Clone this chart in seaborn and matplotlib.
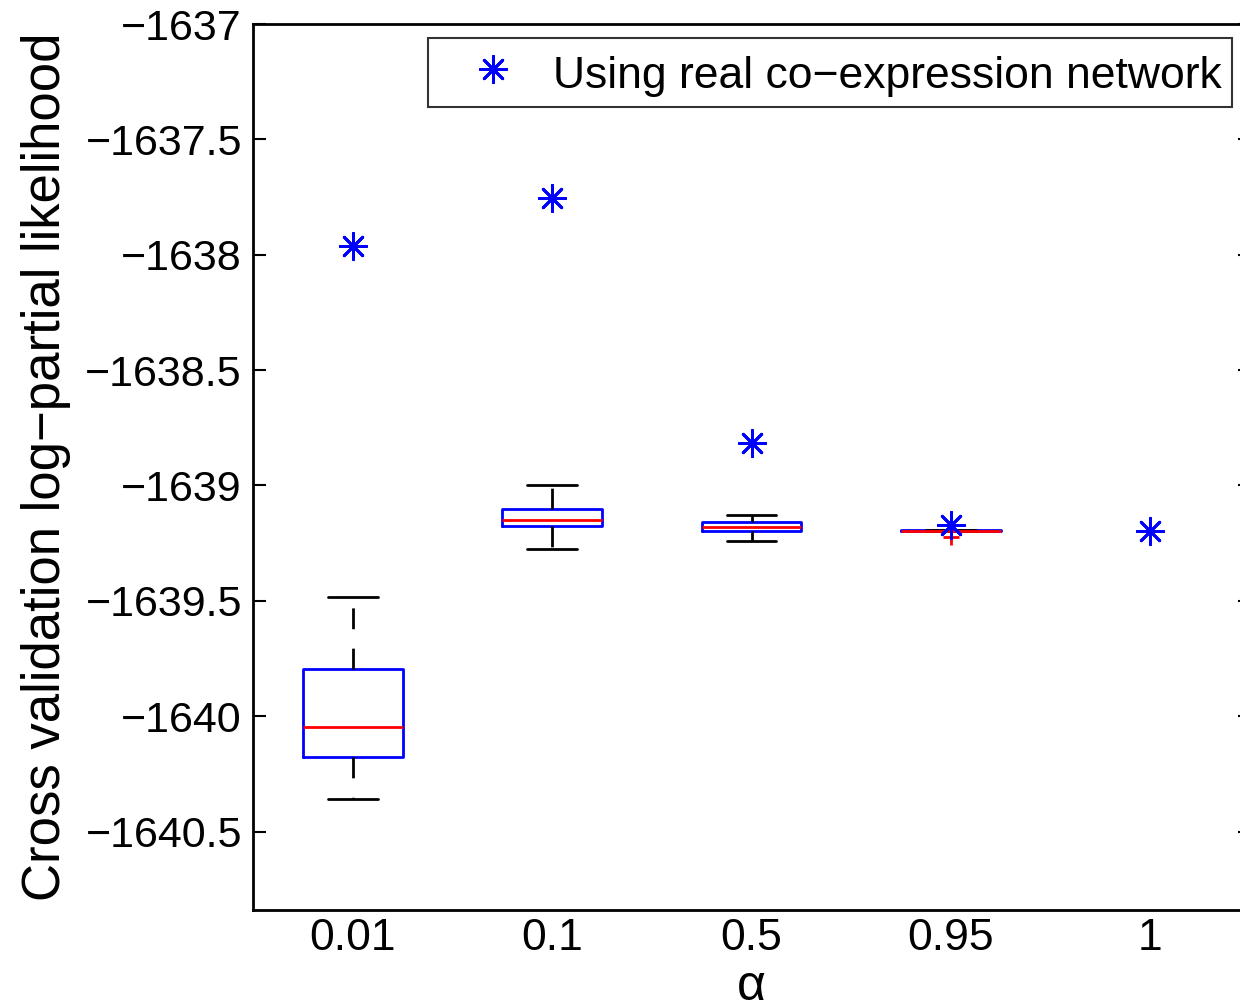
import numpy as np
import pandas as pd
import matplotlib
matplotlib.use("Agg")
import matplotlib.pyplot as plt
import seaborn as sns

# ---------------------------------------------------------------
# Data
# ---------------------------------------------------------------
ALPHAS = ["0.01", "0.1", "0.5", "0.95", "1"]

# cross-validation runs per alpha (random networks) -> boxes
CV_001 = [-1640.361, -1640.178, -1640.048, -1639.796, -1639.484]
CV_01 = [-1639.275, -1639.175, -1639.149, -1639.100, -1638.997]
CV_05 = [-1639.240, -1639.197, -1639.180, -1639.158, -1639.128]
CV_095 = [-1639.224, -1639.199, -1639.197, -1639.195, -1639.192]
CV_1 = []  # no box drawn for alpha = 1

# real co-expression network -> stars
REAL_NET = [-1637.964, -1637.756, -1638.815, -1639.172, -1639.197]

YTICKS = [-1637, -1637.5, -1638, -1638.5, -1639, -1639.5, -1640, -1640.5]
YLIM = (-1640.84, -1637.0)

# ---------------------------------------------------------------
box_df = pd.DataFrame({
    "alpha": (["0.01"] * len(CV_001) + ["0.1"] * len(CV_01) + ["0.5"] * len(CV_05)
              + ["0.95"] * len(CV_095) + ["1"] * len(CV_1)),
    "loglik": CV_001 + CV_01 + CV_05 + CV_095 + CV_1,
})
real_df = pd.DataFrame({"alpha": ALPHAS, "loglik": REAL_NET})

sns.set_style("white")
plt.rcParams["font.family"] = ["Liberation Sans", "DejaVu Sans"]
plt.rcParams["text.color"] = "black"

fig = plt.figure(figsize=(12.4, 10.08), dpi=100)
ax = fig.add_axes([253 / 1240, 1 - 910 / 1008, 997 / 1240, 886 / 1008])

sns.boxplot(
    data=box_df, x="alpha", y="loglik", order=ALPHAS, ax=ax,
    width=0.5, fill=False, whis=1.5,
    boxprops=dict(color="blue", linewidth=2),
    whiskerprops=dict(color="black", linestyle=(0, (7.5, 7)), linewidth=2),
    capprops=dict(color="black", linewidth=2),
    medianprops=dict(color="red", linewidth=2),
    flierprops=dict(marker="+", markeredgecolor="red", markersize=12, markeredgewidth=2),
)

sns.stripplot(
    data=real_df, x="alpha", y="loglik", order=ALPHAS, ax=ax,
    jitter=False, marker=(8, 2, 0), color="blue", size=19, linewidth=2.0,
    zorder=5,
)
star = ax.collections[-1]
star.set_edgecolor("blue")

ax.set_xlim(-0.5, 4.5)
ax.set_ylim(*YLIM)
ax.set_yticks(YTICKS)
ax.set_yticklabels([f"{v:g}".replace("-", "\u2212") for v in YTICKS])
ax.set_xticks(range(len(ALPHAS)))
ax.set_xticklabels(ALPHAS)
ax.tick_params(axis="y", direction="in", length=9, width=1.5, labelsize=31,
               left=True, right=True, pad=8, labelcolor="black", color="black")
ax.tick_params(axis="x", length=0, labelsize=32, pad=6, labelcolor="black")

for sp in ax.spines.values():
    sp.set_visible(True)
    sp.set_color("black")
    sp.set_linewidth(2)

ax.set_xlabel("\u03b1", fontsize=36, labelpad=3, color="black")
ax.set_ylabel("Cross validation log\u2212partial likelihood", fontsize=38,
              labelpad=10, color="black")

leg = ax.legend(
    [star], ["Using real co\u2212expression network"],
    loc="upper right", bbox_to_anchor=(1232 / 1240, 1 - 38 / 1008),
    bbox_transform=fig.transFigure, fontsize=32, frameon=True, fancybox=False,
    borderpad=0.22, handlelength=2.5, handleheight=1.35, handletextpad=0.1,
    borderaxespad=0,
)
leg.get_frame().set_edgecolor("black")
leg.get_frame().set_linewidth(1.5)

fig.savefig("out.png", dpi=100)
